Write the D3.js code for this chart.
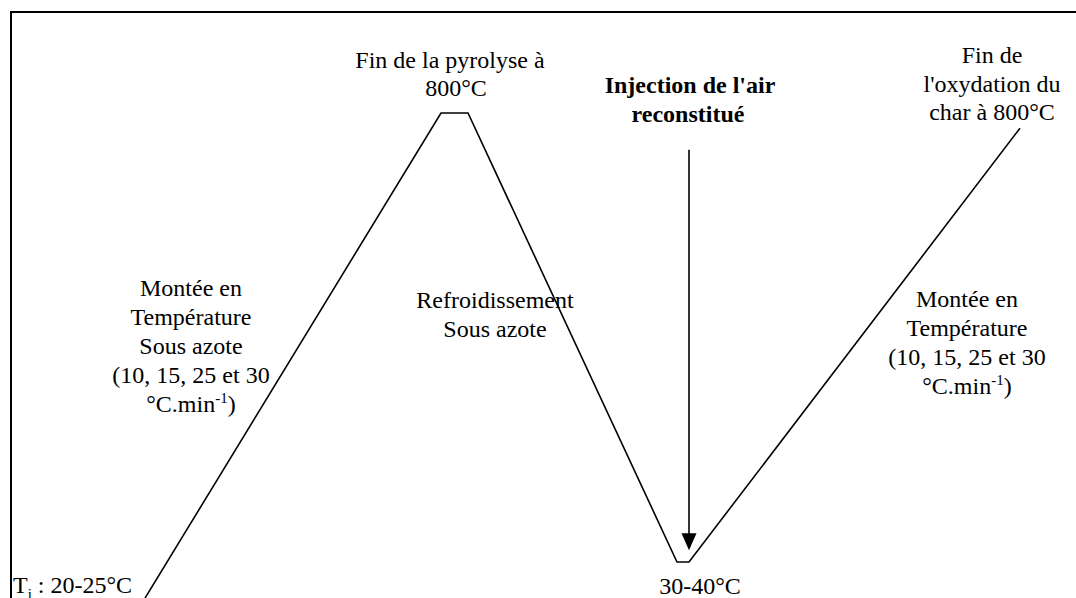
<!DOCTYPE html>
<html><head><meta charset="utf-8">
<script src="https://cdn.jsdelivr.net/npm/d3@7"></script>
<style>
html,body{margin:0;padding:0;background:#fff;}
svg{display:block;}
text{font-family:"Liberation Serif","Times New Roman",serif;font-size:24px;fill:#000;}
</style></head>
<body>
<svg id="c" width="1076" height="598"></svg>
<script>
// Schematic temperature programme (abstract time units, °C)
const time = [0, 296, 323, 532, 544, 875];
const temperature = [-32, 800, 800, 30, 30, 774];
const arrowTime = 544;
const arrowTemps = [737, 50];

const svg = d3.select("#c");
const x = d3.scaleLinear().domain([0, 875]).range([145, 1020]);
const y = d3.scaleLinear().domain([30, 800]).range([562, 113]);

// frame
svg.append("path").attr("d", "M11,598 V12 H1076")
  .attr("fill", "none").attr("stroke", "#000").attr("stroke-width", 2);

// temperature profile
const pts = time.map((t, i) => [x(t), y(temperature[i])]);
svg.append("path").attr("d", d3.line()(pts))
  .attr("fill", "none").attr("stroke", "#000").attr("stroke-width", 1.6)
  .attr("stroke-linejoin", "miter");

// injection arrow
const ax = x(arrowTime);
const y0 = y(arrowTemps[0]), y1 = y(arrowTemps[1]);
svg.append("line").attr("x1", ax).attr("x2", ax).attr("y1", y0).attr("y2", y1 - 14)
  .attr("stroke", "#000").attr("stroke-width", 1.6);
svg.append("path").attr("d", `M${ax-7.5},${y1-17} L${ax+7.5},${y1-17} L${ax},${y1} Z`).attr("fill", "#000");

function block(cxs, baselines, lines, bold) {
  lines.forEach((l, i) => {
    const cx = Array.isArray(cxs) ? cxs[i] : cxs;
    const t = svg.append("text").attr("x", cx).attr("y", baselines[i]).attr("text-anchor", "middle");
    if (bold) t.attr("font-weight", "bold");
    if (Array.isArray(l)) {
      l.forEach(seg => {
        const ts = t.append("tspan").text(seg.t);
        if (seg.sup) ts.attr("dy", -9).style("font-size", "15px");
        if (seg.after) ts.attr("dy", 9);
      });
    } else t.text(l);
  });
}

const minUnit = [{t:"°C.min"},{t:"-1",sup:true},{t:")",after:true}];

block([450, 456], [68, 96], ["Fin de la pyrolyse à", "800°C"]);
block([690, 688], [93, 122], ["Injection de l'air", "reconstitué"], true);
block(992, [63, 92, 120], ["Fin de", "l'oxydation du", "char à 800°C"]);
block(191, [296, 325, 354, 383, 412], ["Montée en", "Température", "Sous azote", "(10, 15, 25 et 30", minUnit]);
block(495, [308, 337], ["Refroidissement", "Sous azote"]);
block(967, [307, 336, 365, 394], ["Montée en", "Température", "(10, 15, 25 et 30", minUnit]);
block(700, [594], ["30-40°C"]);

const ti = svg.append("text").attr("x", 13).attr("y", 593);
ti.append("tspan").text("T");
ti.append("tspan").text("i").attr("dy", 6).style("font-size", "15px");
ti.append("tspan").text(" : 20-25°C").attr("dy", -6);
</script>
</body></html>
